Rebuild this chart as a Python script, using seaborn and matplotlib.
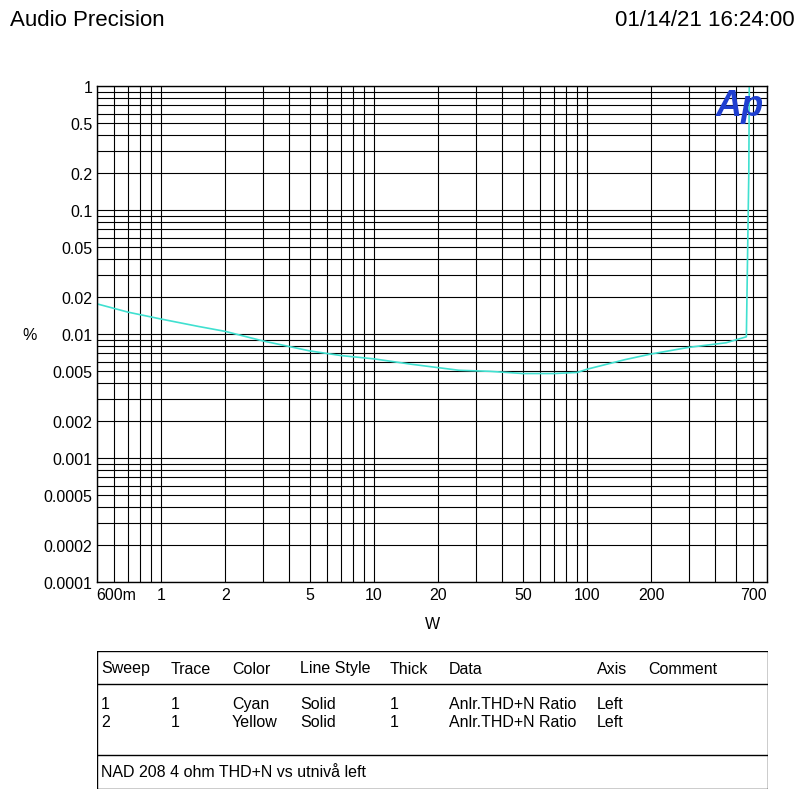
import matplotlib
matplotlib.use("Agg")
import matplotlib.pyplot as plt
import matplotlib.transforms as mtrans
import seaborn as sns
import numpy as np
import pandas as pd
from matplotlib.ticker import FixedLocator, FixedFormatter, LogLocator, NullFormatter

plt.rcParams["font.family"] = "Liberation Sans"

power_w = [0.5, 0.7, 1, 1.5, 2, 3, 5, 7, 10, 15, 25, 35, 50, 70, 90, 100, 150, 200, 300, 450, 560, 575, 578]
thd_pct = [0.0175, 0.015, 0.0132, 0.0115, 0.0105, 0.0088, 0.0073, 0.0067, 0.0063, 0.0057, 0.0051, 0.0050, 0.0048, 0.0048, 0.0049, 0.0052, 0.0062, 0.0069, 0.0078, 0.0085, 0.0095, 0.2, 1.0]
xticks = [0.6, 1, 2, 5, 10, 20, 50, 100, 200, 700]
xlabels = ["600m", "1", "2", "5", "10", "20", "50", "100", "200", "700"]
yticks = [1, 0.5, 0.2, 0.1, 0.05, 0.02, 0.01, 0.005, 0.002, 0.001, 0.0005, 0.0002, 0.0001]
ylabels = ["1", "0.5", "0.2", "0.1", "0.05", "0.02", "0.01", "0.005", "0.002", "0.001", "0.0005", "0.0002", "0.0001"]

df = pd.DataFrame({"W": power_w, "pct": thd_pct})
fig = plt.figure(figsize=(8.12, 8.04), dpi=100)
ax = fig.add_axes([97/812, 1-583/804, 670/812, 496/804])
sns.lineplot(data=df, x="W", y="pct", ax=ax, color="#40E0D0", lw=1.2, sort=False)
ax.set_xscale("log"); ax.set_yscale("log")
ax.set_xlim(0.5, 700); ax.set_ylim(0.0001, 1)
ax.xaxis.set_major_locator(FixedLocator(xticks)); ax.xaxis.set_major_formatter(FixedFormatter(xlabels))
ax.yaxis.set_major_locator(FixedLocator(yticks)); ax.yaxis.set_major_formatter(FixedFormatter(ylabels))
ax.xaxis.set_minor_locator(LogLocator(subs=np.arange(1, 10))); ax.xaxis.set_minor_formatter(NullFormatter())
ax.yaxis.set_minor_locator(LogLocator(subs=np.arange(1, 10))); ax.yaxis.set_minor_formatter(NullFormatter())
ax.grid(True, which="both", color="black", lw=0.8)
ax.set_axisbelow(True)
ax.tick_params(which="both", length=0, labelsize=11.5)
ax.set_xlabel("W", fontsize=11.5, labelpad=10); ax.set_ylabel("")
fig.canvas.draw()
lbls = ax.get_xticklabels()
lbls[-1].set_transform(lbls[-1].get_transform() + mtrans.ScaledTranslation(-0.14, 0, fig.dpi_scale_trans))
lbls[0].set_transform(lbls[0].get_transform() + mtrans.ScaledTranslation(0.02, 0, fig.dpi_scale_trans))
for s in ax.spines.values(): s.set_linewidth(1)
fig.text(22/812, 1-335/804, "%", fontsize=11.5, va="center")
fig.text(10/812, 1-20/804, "Audio Precision", fontsize=16, va="center")
fig.text(795/812, 1-20/804, "01/14/21 16:24:00", fontsize=16, va="center", ha="right")
fig.text(740/812, 1-107/804, "Ap", fontsize=26, color="#1f3fd0", fontweight="bold", style="italic", va="center", ha="center")

# table
tab = fig.add_axes([97/812, 1-790/804, 671/812, 138/804])
tab.set_xlim(0, 671); tab.set_ylim(138, 0); tab.axis("off")
tab.plot([0, 671, 671, 0, 0], [0, 0, 138, 138, 0], color="black", lw=1)
tab.plot([0, 671], [33, 33], color="black", lw=1)
tab.plot([0, 671], [104, 104], color="black", lw=1)
cols = [4, 74, 135, 203, 293, 352, 500, 551]
head = ["Sweep", "Trace", "Color", "Line Style", "Thick", "Data", "Axis", "Comment"]
rows = [["1", "1", "Cyan", "Solid", "1", "Anlr.THD+N Ratio", "Left", ""],
        ["2", "1", "Yellow", "Solid", "1", "Anlr.THD+N Ratio", "Left", ""]]
for c, h in zip(cols, head):
    tab.text(c, 17, h, fontsize=11.5, va="center")
for ri, r in enumerate(rows):
    for c, v in zip(cols, r):
        tab.text(c, 53 + ri * 18, v, fontsize=11.5, va="center")
tab.text(4, 121, "NAD 208 4 ohm THD+N vs utnivå left", fontsize=11.5, va="center")
fig.savefig("out.png", dpi=100)
